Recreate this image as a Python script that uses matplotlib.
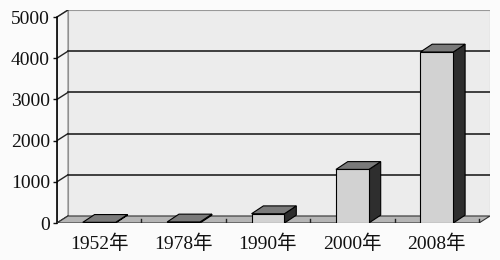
import matplotlib.pyplot as plt
from matplotlib.patches import Polygon, Rectangle

years = ['1952年', '1978年', '1990年', '2000年', '2008年']
values = [15, 25, 225, 1300, 4150]
yticks = [0, 1000, 2000, 3000, 4000, 5000]

plt.rcParams['font.family'] = ['Liberation Serif', 'Noto Sans CJK SC']

# fake 3d depth, in data units
DX, DY = 0.13, 170
BDX, BDY = 0.14, 190
W = 0.39

fig = plt.figure(figsize=(5, 2.6), dpi=100)
fig.patch.set_facecolor('#fbfbfb')
ax = fig.add_axes([57 / 500, 37 / 260, 433 / 500, 213 / 260])
ax.set_xlim(-0.5, 4.5 + DX)
ax.set_ylim(0, 5000 + DY)
ax.patch.set_visible(False)
for s in ['top', 'right', 'bottom']:
    ax.spines[s].set_visible(False)
ax.spines['left'].set_bounds(0, 5000)
ax.spines['left'].set_linewidth(1.2)

x0, x1 = -0.5, 4.5
top = yticks[-1]

# back wall
ax.add_patch(Rectangle((x0 + DX, DY), x1 - x0, top, facecolor='#ececec',
                       edgecolor='#999999', lw=0.8, zorder=1))
# left wall
ax.add_patch(Polygon([(x0, 0), (x0 + DX, DY), (x0 + DX, top + DY), (x0, top)],
                     facecolor='#f4f4f4', edgecolor='#888888', lw=0.8, zorder=1))
# gridlines on wall + diagonals
for v in yticks[1:-1]:
    ax.plot([x0 + DX, x1 + DX], [v + DY, v + DY], color='#222222', lw=1.2, zorder=2)
for v in yticks:
    ax.plot([x0, x0 + DX], [v, v + DY], color='#222222', lw=1.0, zorder=2)

# floor
ax.add_patch(Polygon([(x0, 0), (x1, 0), (x1 + DX, DY), (x0 + DX, DY)],
                     facecolor='#b5b5b5', edgecolor='#333333', lw=0.8, zorder=3))
for b in [0.5, 1.5, 2.5, 3.5, 4.5]:
    ax.plot([b, b], [0, 0.5 * DY], color='#222222', lw=1.0, zorder=3)

# bars
for i, v in enumerate(values):
    l, r = i - W / 2, i + W / 2
    ax.add_patch(Polygon([(r, 0), (r + BDX, BDY), (r + BDX, v + BDY), (r, v)],
                         facecolor='#2e2e2e', edgecolor='black', lw=0.8, zorder=4))
    ax.add_patch(Polygon([(l, v), (r, v), (r + BDX, v + BDY), (l + BDX, v + BDY)],
                         facecolor='#7a7a7a', edgecolor='black', lw=0.8, zorder=4))
    ax.add_patch(Rectangle((l, 0), W, v, facecolor='#d2d2d2',
                           edgecolor='black', lw=0.8, zorder=5))

ax.set_yticks(yticks)
ax.set_yticklabels([str(t) for t in yticks], fontsize=14)
ax.tick_params(axis='y', length=3, width=1, pad=2, colors='#111111')
ax.set_xticks(range(len(years)))
ax.set_xticklabels(years, fontsize=14)
ax.tick_params(axis='x', length=0, pad=8, colors='#111111')

fig.savefig('out.png', dpi=100, facecolor=fig.get_facecolor())
